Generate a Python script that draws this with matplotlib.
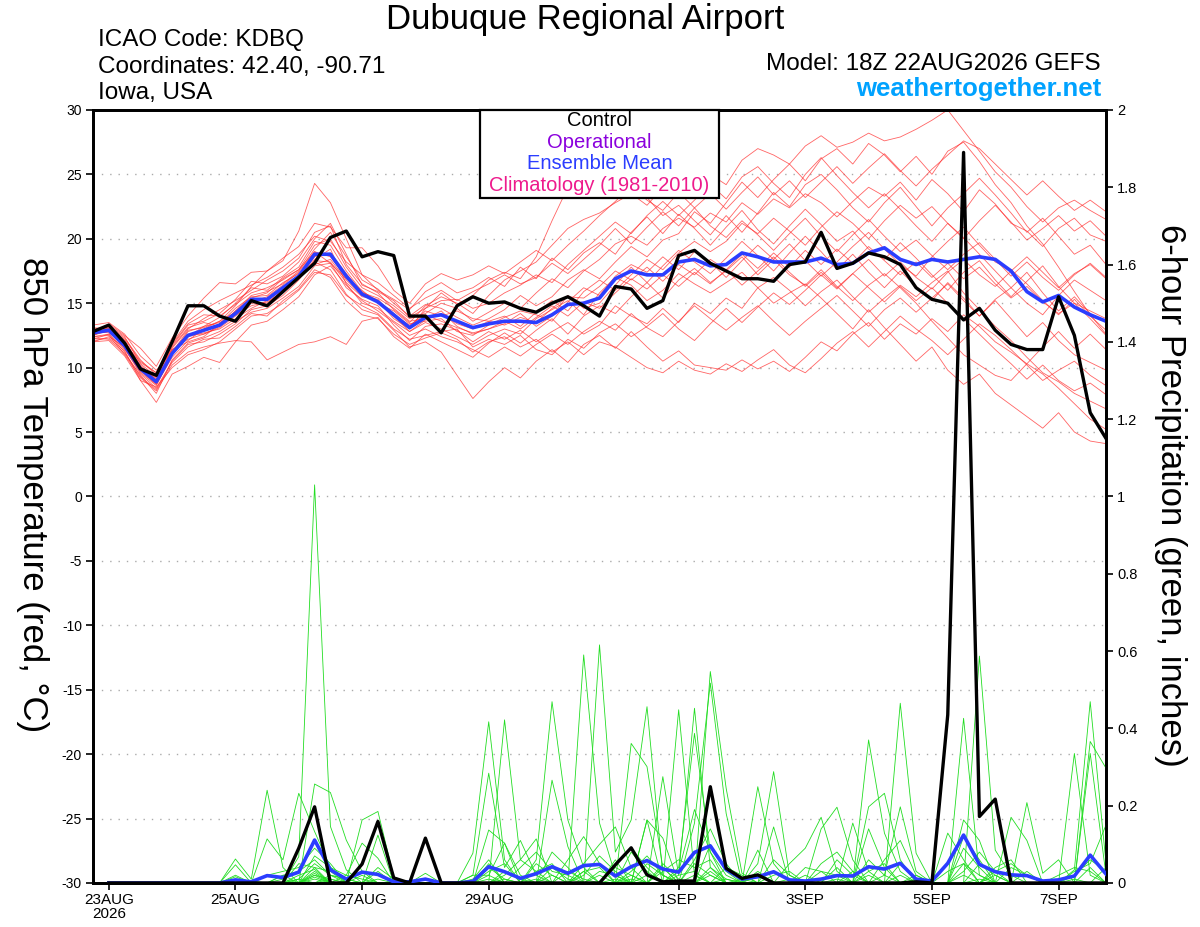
import matplotlib
matplotlib.use('Agg')
import matplotlib.pyplot as plt
import numpy as np
import pandas as pd
from matplotlib.patches import Rectangle
from matplotlib.ticker import FuncFormatter

plt.rcParams['font.family'] = ['Liberation Sans', 'DejaVu Sans']
plt.rcParams['axes.unicode_minus'] = False

# 6-hourly steps from the 18Z 22AUG2026 run, out to 384 h
times = pd.date_range('2026-08-22 18:00', periods=65, freq='6h')

tick_dates = pd.to_datetime(['2026-08-23', '2026-08-25', '2026-08-27', '2026-08-29',
                             '2026-09-01', '2026-09-03', '2026-09-05', '2026-09-07'])
tick_labels = ['23AUG\n2026', '25AUG', '27AUG', '29AUG', '1SEP', '3SEP', '5SEP', '7SEP']

# 850 hPa temperature (C)
control_t = [12.8, 13.3, 11.9, 9.9, 9.4, 12.0, 14.8, 14.8, 14.0, 13.6, 15.2, 14.8, 15.9,
             17.0, 18.1, 20.1, 20.6, 18.6, 19.0, 18.7, 14.0, 14.0, 12.7, 14.8, 15.5, 15.0,
             15.1, 14.6, 14.3, 15.0, 15.5, 14.8, 14.0, 16.3, 16.1, 14.6, 15.2, 18.7, 19.1,
             18.1, 17.5, 16.9, 16.9, 16.7, 18.0, 18.2, 20.5, 17.7, 18.1, 18.9, 18.6, 18.0,
             16.2, 15.3, 15.0, 13.7, 14.6, 12.9, 11.8, 11.4, 11.4, 15.5, 12.5, 6.5, 4.5]

mean_t = [12.7, 12.9, 11.7, 9.9, 8.9, 11.1, 12.5, 12.9, 13.3, 14.2, 15.3, 15.3, 16.2,
          17.1, 18.8, 18.8, 17.1, 15.7, 15.1, 14.1, 13.1, 13.9, 14.1, 13.6, 13.1, 13.4,
          13.6, 13.6, 13.5, 14.1, 14.9, 15.0, 15.4, 16.9, 17.5, 17.2, 17.2, 18.2, 18.4,
          17.9, 18.0, 18.9, 18.6, 18.2, 18.2, 18.2, 18.5, 18.0, 18.1, 18.9, 19.3, 18.4,
          18.0, 18.4, 18.2, 18.4, 18.6, 18.4, 17.5, 15.9, 15.1, 15.6, 14.7, 14.1, 13.6]

members_t = [
    [12.5, 13.0, 12.0, 10.2, 9.0, 11.5, 13.0, 13.8, 14.5, 15.2, 16.0, 16.8, 17.5,
     18.5, 20.5, 21.0, 18.0, 16.5, 15.8, 14.5, 13.5, 14.8, 15.5, 15.0, 14.2, 15.6,
     16.8, 17.5, 18.2, 19.5, 20.8, 21.5, 22.0, 22.8, 23.5, 22.6, 24.0, 25.2, 26.0,
     25.0, 24.2, 26.1, 27.0, 26.5, 25.8, 27.2, 28.0, 27.1, 27.5, 28.2, 27.6, 27.9,
     28.5, 29.2, 30.0, 28.4, 26.8, 25.2, 24.0, 22.5, 21.3, 22.4, 23.0, 22.2, 21.5],
    [13.0, 12.8, 11.5, 9.5, 8.4, 10.5, 11.8, 12.0, 12.6, 13.4, 14.5, 14.8, 15.6,
     16.8, 18.4, 19.2, 16.5, 15.0, 14.6, 13.6, 12.8, 13.5, 13.0, 12.4, 11.8, 12.5,
     13.0, 12.6, 13.8, 14.5, 15.2, 14.1, 15.8, 17.0, 16.4, 15.2, 16.0, 17.3, 16.5,
     15.8, 16.6, 17.4, 16.2, 15.0, 15.8, 16.5, 15.4, 14.2, 13.0, 14.5, 13.1, 11.8,
     10.5, 11.6, 9.8, 8.7, 9.5, 8.0, 7.1, 6.2, 5.3, 6.5, 5.0, 4.3, 4.1],
    [12.9, 13.2, 12.3, 10.6, 9.4, 11.8, 13.4, 14.1, 14.0, 14.9, 15.8, 16.2, 16.8,
     17.6, 19.5, 20.0, 17.8, 16.2, 15.6, 14.8, 13.8, 14.2, 15.0, 14.6, 13.6, 14.3,
     15.0, 14.6, 15.8, 16.9, 16.2, 17.5, 18.4, 19.6, 20.2, 19.5, 20.8, 21.6, 20.9,
     22.0, 21.3, 22.8, 21.9, 23.1, 22.4, 23.5, 22.8, 21.7, 22.9, 24.0, 23.3, 24.4,
     23.0, 24.6, 23.5, 22.1, 23.8, 22.7, 21.2, 20.6, 19.4, 20.8, 21.6, 20.3, 19.8],
    [12.2, 12.6, 11.4, 9.7, 8.7, 10.8, 12.1, 13.0, 13.6, 14.8, 16.3, 17.5, 18.3,
     20.6, 24.3, 22.8, 20.0, 17.2, 16.0, 15.3, 14.5, 15.9, 16.6, 15.8, 16.2, 17.0,
     16.3, 17.8, 16.9, 18.5, 17.6, 18.9, 19.7, 18.8, 20.5, 21.7, 20.4, 21.9, 20.8,
     19.5, 20.9, 22.2, 20.7, 19.6, 21.0, 22.3, 21.1, 19.8, 20.6, 19.2, 18.4, 19.7,
     18.5, 17.2, 16.0, 17.4, 18.3, 16.8, 15.5, 16.7, 17.9, 16.3, 15.0, 13.8, 12.5],
    [12.4, 12.5, 11.0, 9.2, 8.2, 10.2, 11.2, 11.6, 11.9, 12.1, 12.0, 10.6, 11.2,
     11.8, 12.0, 12.4, 11.8, 13.6, 13.9, 12.4, 11.5, 12.6, 12.0, 11.4, 10.8, 11.9,
     12.7, 11.9, 12.9, 13.8, 12.6, 14.0, 14.8, 14.2, 15.5, 16.6, 15.4, 16.8, 17.7,
     16.6, 17.5, 18.6, 17.2, 18.4, 19.6, 18.3, 17.1, 18.2, 19.4, 20.5, 19.2, 18.0,
     17.1, 18.6, 19.8, 20.9, 19.5, 18.2, 17.6, 16.5, 15.2, 14.1, 15.3, 14.0, 12.9],
    [13.3, 13.5, 12.6, 10.9, 9.8, 11.2, 12.4, 12.7, 13.0, 13.8, 14.6, 15.2, 16.1,
     17.0, 18.2, 17.6, 15.7, 14.5, 14.1, 12.9, 11.6, 12.0, 11.2, 9.4, 7.6, 8.9,
     10.0, 9.2, 10.5, 11.4, 10.4, 11.8, 12.5, 11.5, 12.8, 11.6, 10.5, 11.3, 10.2,
     10.0, 9.8, 10.6, 9.9, 10.5, 9.7, 10.8, 12.0, 11.3, 12.6, 13.5, 12.2, 13.4,
     12.6, 13.8, 12.8, 14.1, 13.2, 12.0, 11.2, 10.3, 9.5, 8.4, 7.2, 6.0, 5.2],
    [12.0, 12.4, 11.6, 9.6, 8.6, 11.0, 12.8, 13.2, 13.9, 15.0, 16.2, 16.0, 17.0,
     17.8, 19.8, 19.5, 17.5, 15.9, 15.2, 13.8, 13.0, 14.6, 15.8, 14.9, 15.6, 16.8,
     17.4, 16.9, 18.6, 21.4, 24.0, 26.2, 25.1, 23.6, 24.5, 23.2, 21.8, 22.6, 21.4,
     20.3, 21.8, 20.5, 22.0, 23.6, 22.5, 24.2, 25.0, 23.8, 22.4, 21.3, 22.8, 24.0,
     22.5, 21.0, 22.4, 23.5, 24.7, 23.4, 22.0, 20.5, 21.6, 20.2, 18.8, 19.5, 18.0],
    [12.6, 13.1, 12.1, 10.1, 9.1, 11.3, 12.6, 12.6, 13.1, 14.0, 15.0, 15.0, 16.0,
     16.9, 18.6, 18.9, 17.3, 15.8, 15.4, 14.6, 13.6, 13.8, 14.4, 13.2, 12.6, 13.0,
     13.4, 14.2, 13.2, 14.0, 15.6, 14.6, 15.0, 16.4, 17.8, 16.6, 17.9, 19.1, 18.2,
     17.3, 18.5, 19.8, 18.7, 17.5, 18.9, 20.2, 19.0, 17.6, 18.8, 17.4, 16.2, 17.5,
     16.3, 15.2, 16.6, 15.4, 14.0, 15.2, 13.8, 12.4, 13.5, 12.1, 11.0, 10.4, 9.8],
    [12.8, 12.7, 11.8, 10.0, 9.2, 11.6, 13.1, 13.5, 13.2, 14.4, 15.6, 15.9, 16.5,
     17.5, 19.2, 20.5, 18.6, 16.8, 16.1, 15.0, 14.0, 14.9, 14.6, 13.9, 13.3, 13.8,
     14.5, 15.6, 14.8, 15.5, 16.8, 17.6, 16.9, 18.2, 19.4, 18.6, 19.9, 20.4, 22.1,
     21.2, 22.8, 24.4, 23.2, 24.6, 25.8, 24.5, 26.2, 27.0, 25.8, 27.4, 26.5, 25.2,
     26.4, 25.0, 26.8, 27.5, 26.0, 24.2, 22.8, 21.0, 19.6, 17.8, 15.9, 14.1, 12.6],
    [12.3, 12.2, 11.1, 9.4, 8.0, 10.6, 11.9, 12.3, 12.8, 13.6, 14.3, 14.6, 15.4,
     16.3, 17.9, 18.1, 16.2, 15.3, 14.8, 13.3, 12.1, 13.2, 13.4, 12.9, 12.0, 12.8,
     12.2, 12.9, 12.0, 12.8, 13.5, 12.6, 13.3, 14.8, 14.0, 13.4, 14.6, 13.5, 15.0,
     14.2, 15.4, 14.6, 16.2, 17.0, 16.0, 14.8, 15.9, 16.8, 15.5, 14.3, 15.4, 16.4,
     15.5, 16.6, 17.5, 15.8, 14.5, 13.2, 12.1, 10.8, 9.6, 8.9, 8.0, 7.4, 6.8],
    [13.1, 13.0, 11.9, 10.4, 9.6, 11.4, 12.0, 12.4, 13.4, 14.6, 15.5, 15.6, 16.6,
     17.3, 18.0, 18.4, 16.8, 15.6, 15.2, 14.2, 13.2, 14.4, 14.0, 14.4, 13.8, 13.6,
     14.0, 13.2, 14.3, 15.2, 14.4, 15.9, 16.8, 16.0, 17.2, 18.4, 17.6, 18.9, 19.8,
     19.0, 19.8, 21.2, 20.4, 21.6, 20.6, 19.5, 20.9, 22.1, 21.2, 20.0, 21.4, 22.6,
     21.6, 22.5, 21.2, 20.0, 21.4, 22.6, 21.3, 19.9, 20.8, 21.8, 20.6, 21.4, 20.2],
    [12.1, 12.3, 11.3, 9.0, 7.3, 9.5, 10.1, 10.8, 10.4, 12.0, 13.3, 13.6, 14.5,
     15.5, 17.2, 17.9, 16.4, 15.2, 14.4, 13.5, 12.5, 13.0, 12.4, 12.0, 11.4, 10.8,
     11.6, 10.9, 11.8, 12.6, 11.8, 12.8, 13.6, 12.9, 14.2, 13.1, 12.4, 13.6, 14.8,
     13.8, 12.9, 13.9, 14.8, 13.6, 12.5, 13.6, 14.6, 15.6, 14.4, 13.2, 14.5, 15.4,
     14.3, 15.4, 16.5, 15.2, 14.0, 15.3, 16.2, 15.0, 14.1, 15.6, 16.8, 16.0, 15.2],
    [12.7, 13.4, 12.5, 11.5, 10.1, 12.3, 14.0, 15.4, 16.6, 16.5, 17.4, 17.5, 18.5,
     19.4, 21.2, 20.9, 19.3, 19.3, 17.9, 16.0, 15.0, 16.5, 17.3, 16.8, 17.2, 17.9,
     17.3, 18.2, 19.1, 18.3, 19.5, 20.6, 21.8, 22.9, 24.1, 23.0, 22.2, 23.6, 22.4,
     21.0, 20.1, 21.4, 20.3, 19.1, 20.4, 21.6, 20.2, 19.0, 20.3, 21.5, 20.2, 19.0,
     19.9, 18.7, 17.6, 18.8, 19.7, 18.4, 17.1, 18.2, 17.0, 16.0, 17.2, 18.1, 17.0],
    [12.5, 12.9, 11.6, 9.8, 8.8, 11.2, 12.9, 13.1, 13.6, 14.3, 15.1, 15.5, 16.4,
     17.4, 19.0, 18.1, 16.9, 16.0, 15.0, 14.4, 13.4, 13.6, 13.8, 12.8, 12.5, 13.3,
     13.9, 14.4, 14.1, 13.6, 15.1, 16.2, 15.6, 17.1, 18.0, 17.4, 18.6, 17.6, 19.0,
     18.2, 17.0, 18.3, 19.5, 18.4, 17.2, 16.4, 17.6, 16.3, 15.2, 16.4, 17.3, 16.2,
     15.0, 13.6, 12.3, 11.0, 10.2, 9.4, 9.0, 10.3, 11.6, 12.8, 11.5, 12.6, 11.4],
    [12.9, 13.3, 12.4, 10.3, 9.3, 11.7, 13.3, 13.6, 14.2, 15.3, 16.7, 16.5, 17.1,
     18.2, 20.0, 21.2, 18.8, 16.4, 15.9, 15.2, 13.9, 14.6, 15.2, 15.3, 14.6, 15.0,
     15.8, 16.4, 17.2, 16.6, 18.0, 19.1, 20.2, 21.3, 20.4, 21.8, 22.9, 21.8, 23.0,
     24.2, 23.1, 24.8, 25.6, 24.3, 23.2, 25.0, 26.3, 24.9, 23.6, 22.4, 23.5, 22.3,
     21.0, 19.8, 21.2, 20.1, 18.8, 17.5, 16.2, 17.4, 15.8, 14.4, 15.5, 14.2, 13.5],
    [12.0, 12.1, 10.9, 9.0, 8.5, 10.0, 11.0, 11.4, 12.0, 13.0, 14.0, 14.2, 15.0,
     16.0, 17.4, 17.2, 15.6, 14.8, 14.2, 13.0, 12.2, 12.5, 12.8, 13.0, 11.6, 12.2,
     11.8, 12.5, 11.4, 11.0, 12.2, 11.5, 12.7, 13.4, 12.4, 13.2, 14.2, 13.0, 12.1,
     13.4, 14.6, 13.5, 14.7, 15.8, 14.9, 16.0, 17.2, 16.1, 17.3, 18.4, 17.1, 18.2,
     17.0, 16.1, 17.4, 18.4, 17.2, 16.3, 17.5, 18.6, 17.4, 16.2, 17.3, 18.0, 16.9],
    [12.6, 12.8, 11.7, 10.0, 9.0, 11.0, 12.4, 13.2, 13.5, 14.1, 14.8, 15.1, 15.9,
     16.9, 18.3, 18.2, 16.6, 15.5, 15.3, 14.0, 12.8, 13.7, 14.2, 13.4, 13.0, 13.6,
     13.3, 13.9, 13.5, 14.6, 15.5, 15.4, 16.3, 17.5, 16.8, 17.8, 16.7, 18.0, 17.2,
     18.4, 17.6, 18.8, 17.7, 18.9, 17.8, 19.1, 18.0, 19.2, 18.1, 19.4, 18.3, 17.2,
     18.2, 17.0, 18.1, 16.9, 17.8, 16.5, 15.4, 16.3, 15.1, 14.2, 15.0, 14.4, 13.8],
    [12.4, 12.6, 11.2, 9.3, 8.3, 10.4, 11.6, 12.2, 12.3, 13.2, 14.2, 14.0, 15.2,
     16.1, 17.6, 17.0, 15.2, 14.1, 13.8, 12.6, 11.8, 12.3, 12.7, 12.2, 11.2, 12.0,
     12.4, 11.6, 12.2, 11.2, 12.0, 11.0, 12.0, 11.6, 10.8, 10.0, 9.6, 10.5, 9.8,
     9.5, 10.3, 9.7, 10.6, 11.4, 10.2, 9.6, 10.7, 11.9, 12.8, 11.6, 12.8, 14.0,
     13.0, 12.1, 11.0, 12.2, 13.4, 12.5, 11.4, 10.2, 9.0, 9.8, 10.5, 9.4, 8.6],
    [13.0, 13.1, 12.2, 10.5, 9.6, 11.9, 13.6, 14.5, 15.2, 15.8, 16.4, 17.0, 17.8,
     18.8, 20.2, 19.8, 18.2, 17.2, 16.6, 15.6, 14.6, 15.4, 16.0, 15.2, 15.9, 16.5,
     17.2, 16.5, 17.0, 18.1, 17.3, 18.4, 19.5, 20.8, 19.6, 20.9, 22.1, 21.0, 22.4,
     23.5, 22.3, 23.6, 24.8, 23.4, 24.5, 23.2, 24.4, 25.6, 24.3, 25.5, 26.6, 25.3,
     24.1, 25.4, 26.5, 27.6, 27.0, 25.8, 24.6, 23.4, 24.5, 23.3, 22.2, 23.0, 22.1],
    [12.8, 13.0, 11.8, 9.8, 8.7, 11.4, 12.2, 12.6, 13.2, 14.4, 15.4, 15.8, 16.9,
     17.6, 19.0, 18.6, 17.0, 15.7, 15.1, 14.1, 13.3, 14.1, 13.6, 13.1, 12.7, 13.0,
     13.6, 13.0, 13.9, 14.8, 14.0, 15.1, 14.6, 15.8, 16.9, 16.1, 17.2, 16.3, 17.4,
     16.5, 17.6, 16.4, 17.5, 18.6, 17.4, 16.3, 17.4, 16.2, 17.3, 16.2, 15.1, 16.3,
     15.2, 16.2, 15.0, 13.8, 12.6, 11.4, 10.3, 9.1, 10.2, 9.0, 8.2, 8.8, 7.9],
]

# 6-hour precipitation (inches), steps 1..64 (none at the analysis time)
control_p = [0, 0, 0, 0, 0, 0, 0, 0, 0, 0, 0, 0,
             0.09, 0.197, 0, 0, 0.049, 0.159, 0.013, 0, 0.116, 0,
             0, 0, 0, 0, 0, 0, 0, 0, 0, 0,
             0.047, 0.091, 0.021, 0.003, 0.005, 0.005, 0.249, 0.038, 0.012, 0.021,
             0, 0, 0, 0, 0, 0, 0, 0, 0,
             0.003, 0, 0.435, 1.89, 0.172, 0.217,
             0, 0, 0, 0, 0, 0, 0]

mean_p = [0, 0, 0, 0, 0, 0, 0, 0,
          0.008, 0.003, 0.019, 0.014, 0.028, 0.111, 0.034, 0.010, 0.028, 0.022,
          0.003, 0.003, 0.010, 0, 0, 0.004, 0.042, 0.029, 0.012, 0.024,
          0.042, 0.025, 0.045, 0.048, 0.018, 0.042, 0.058, 0.036, 0.028, 0.079,
          0.096, 0.035, 0.010, 0.016, 0.029, 0.008, 0.005, 0.010, 0.019, 0.018,
          0.042, 0.036, 0.051, 0.010, 0.005, 0.051, 0.124, 0.048, 0.029, 0.021,
          0.019, 0.005, 0.008, 0.018, 0.072, 0.023]

# members: {step: inches}, every other step is dry
members_p = [
    {9: 0.016, 13: 0.068, 14: 1.03, 15: 0.146, 16: 0.034, 25: 0.137, 26: 0.103, 29: 0.266,
     30: 0.094, 35: 0.163, 36: 0.116, 38: 0.155, 39: 0.517, 40: 0.18, 43: 0.145, 46: 0.14,
     47: 0.196, 48: 0.06, 55: 0.163, 56: 0.11, 63: 0.366, 64: 0.297},
    {9: 0.062, 10: 0.01, 11: 0.24, 12: 0.04, 14: 0.256, 15: 0.234, 16: 0.111, 17: 0.03,
     24: 0.077, 25: 0.417, 26: 0.06, 31: 0.59, 32: 0.155, 33: 0.02, 37: 0.448, 38: 0.02,
     42: 0.085, 49: 0.37, 50: 0.129, 51: 0.03, 58: 0.17, 59: 0.11, 62: 0.034, 63: 0.469,
     64: 0.05},
    {9: 0.047, 11: 0.114, 12: 0.06, 13: 0.232, 14: 0.133, 15: 0.04, 17: 0.163, 18: 0.185,
     19: 0.016, 26: 0.422, 27: 0.06, 28: 0.114, 32: 0.616, 33: 0.08, 34: 0.163, 35: 0.456,
     36: 0.02, 42: 0.249, 43: 0.05, 51: 0.465, 52: 0.077, 55: 0.426, 56: 0.02, 62: 0.335,
     63: 0.02},
    {10: 0.005, 12: 0.02, 13: 0.03, 14: 0.06, 15: 0.02, 18: 0.124, 21: 0.025, 25: 0.05,
     28: 0.06, 29: 0.469, 30: 0.163, 31: 0.04, 34: 0.361, 35: 0.301, 36: 0.04, 39: 0.547,
     40: 0.245, 41: 0.025, 47: 0.04, 49: 0.197, 50: 0.232, 51: 0.06, 56: 0.587, 57: 0.085,
     58: 0.02, 63: 0.335, 64: 0.02},
    {12: 0.01, 14: 0.03, 16: 0.02, 17: 0.103, 18: 0.064, 24: 0.02, 25: 0.284, 26: 0.04,
     27: 0.11, 28: 0.02, 31: 0.05, 32: 0.1, 33: 0.145, 34: 0.04, 36: 0.275, 37: 0.02,
     38: 0.452, 39: 0.04, 44: 0.05, 45: 0.09, 46: 0.17, 47: 0.03, 55: 0.05, 59: 0.208,
     60: 0.025, 61: 0.06},
    {9: 0.02, 13: 0.05, 14: 0.04, 15: 0.03, 18: 0.03, 25: 0.03, 26: 0.05, 29: 0.08,
     30: 0.04, 33: 0.06, 35: 0.163, 37: 0.04, 38: 0.387, 39: 0.08, 42: 0.05, 43: 0.288,
     44: 0.02, 49: 0.14, 50: 0.04, 54: 0.129, 55: 0.06, 62: 0.03, 63: 0.05, 64: 0.15},
    {11: 0.02, 12: 0.03, 13: 0.04, 14: 0.09, 15: 0.05, 17: 0.02, 26: 0.02, 27: 0.06,
     28: 0.03, 30: 0.06, 31: 0.12, 32: 0.05, 34: 0.08, 35: 0.03, 37: 0.03, 38: 0.19,
     39: 0.08, 40: 0.02, 45: 0.04, 46: 0.03, 48: 0.155, 49: 0.03, 52: 0.02, 57: 0.04,
     58: 0.06},
    {13: 0.01, 14: 0.05, 15: 0.02, 16: 0.01, 24: 0.01, 25: 0.06, 28: 0.03, 29: 0.05,
     31: 0.03, 32: 0.04, 34: 0.02, 36: 0.03, 37: 0.06, 38: 0.04, 39: 0.06, 41: 0.01,
     49: 0.06, 50: 0.02, 51: 0.197, 52: 0.03, 55: 0.09, 56: 0.04, 59: 0.03},
    {9: 0.01, 12: 0.02, 14: 0.02, 18: 0.01, 25: 0.02, 26: 0.103, 27: 0.02, 29: 0.02,
     32: 0.03, 33: 0.02, 35: 0.05, 36: 0.02, 39: 0.1, 40: 0.03, 43: 0.02, 44: 0.03,
     47: 0.06, 48: 0.02, 55: 0.12, 56: 0.06, 61: 0.02, 62: 0.04, 63: 0.03},
    {14: 0.07, 15: 0.04, 16: 0.02, 17: 0.01, 27: 0.04, 28: 0.08, 29: 0.03, 30: 0.02,
     33: 0.05, 34: 0.09, 35: 0.04, 38: 0.06, 39: 0.14, 40: 0.05, 42: 0.02, 46: 0.05,
     47: 0.08, 48: 0.03, 50: 0.06, 51: 0.11, 52: 0.02, 57: 0.03, 58: 0.05, 59: 0.02,
     64: 0.04},
    {14: 0.02, 15: 0.01, 25: 0.04, 26: 0.01, 31: 0.02, 32: 0.07, 33: 0.03, 36: 0.05,
     37: 0.01, 40: 0.04, 41: 0.02, 49: 0.03, 50: 0.05, 55: 0.03, 56: 0.08, 57: 0.03},
    {13: 0.02, 14: 0.035, 18: 0.04, 19: 0.01, 28: 0.05, 29: 0.02, 34: 0.03, 35: 0.07,
     36: 0.02, 39: 0.03, 43: 0.06, 44: 0.02, 51: 0.05, 52: 0.01, 62: 0.02, 63: 0.06,
     64: 0.03},
    {14: 0.015, 25: 0.01, 30: 0.03, 31: 0.01, 38: 0.05, 39: 0.02, 46: 0.03, 47: 0.02,
     54: 0.03, 55: 0.05, 56: 0.02},
    {15: 0.02, 16: 0.01, 26: 0.03, 27: 0.01, 33: 0.04, 34: 0.02, 37: 0.02, 38: 0.03,
     45: 0.02, 49: 0.02, 58: 0.04, 59: 0.02},
    {14: 0.04, 29: 0.04, 30: 0.01, 35: 0.02, 39: 0.04, 40: 0.01, 42: 0.03, 50: 0.02,
     56: 0.05, 57: 0.02, 63: 0.04},
    {13: 0.01, 24: 0.02, 25: 0.02, 32: 0.02, 36: 0.04, 44: 0.01, 48: 0.03, 55: 0.02},
    {14: 0.025, 28: 0.01, 31: 0.03, 38: 0.02, 47: 0.01, 57: 0.02, 62: 0.01},
    {15: 0.01, 26: 0.01, 34: 0.01, 39: 0.02, 51: 0.02, 56: 0.01},
    {14: 0.01, 33: 0.01, 40: 0.01, 52: 0.01},
    {},
]

legend_items = [('Control', 'black'), ('Operational', '#8a00dd'),
                ('Ensemble Mean', '#2b3dff'), ('Climatology (1981-2010)', '#ee1a8c')]

fig = plt.figure(figsize=(12, 9.27), dpi=100)
ax = fig.add_axes([0.0775, 0.0475, 0.8442, 0.8339])
ax2 = ax.twinx()

ptimes = times[1:]

for m in members_t:
    ax.plot(times, m, color='#ff3030', lw=0.6, alpha=0.75, zorder=2)
ax.plot(times, mean_t, color='#2b3dff', lw=2.6, zorder=4)
ax.plot(times, control_t, color='black', lw=2.4, zorder=5)

for ev in members_p:
    vals = np.zeros(len(ptimes))
    for step, v in ev.items():
        vals[step - 1] = v
    ax2.plot(ptimes, vals, color='#22dd22', lw=0.6, zorder=2)
ax2.plot(ptimes, mean_p, color='#2b3dff', lw=2.6, zorder=4)
ax2.plot(ptimes, control_p, color='black', lw=2.4, zorder=5)

ax.set_xlim(times[0], times[-1])
ax.set_ylim(-30, 30)
ax.set_yticks(np.arange(-30, 31, 5))
ax2.set_ylim(0, 2)
ax2.set_yticks(np.arange(0, 2.01, 0.2))
ax2.yaxis.set_major_formatter(FuncFormatter(lambda v, p: '%g' % round(v, 1)))

ax.set_xticks(tick_dates)
ax.set_xticklabels(tick_labels, fontsize=11, linespacing=1.05)
ax.xaxis.set_minor_locator(plt.NullLocator())
ax.tick_params(axis='x', direction='out', length=5, width=1.2, pad=2)
ax.tick_params(axis='y', direction='out', length=5, width=1.2, pad=3, labelsize=10)
ax2.tick_params(axis='y', direction='out', length=5, width=1.2, pad=3, labelsize=10.5)

for yv in range(-25, 30, 5):
    ax.axhline(yv, color='#aaaaaa', lw=1, ls=(0, (1, 5)), zorder=1)

for a in (ax, ax2):
    for s in a.spines.values():
        s.set_linewidth(2)

fig.text(0.027, 0.466, '850 hPa Temperature (red, °C)', rotation=270,
         ha='center', va='center', fontsize=25)
fig.text(0.975, 0.466, '6-hour Precipitation (green, inches)', rotation=270,
         ha='center', va='center', fontsize=25)

fig.text(0.4875, 0.979, 'Dubuque Regional Airport', ha='center', va='center', fontsize=25)
fig.text(0.0817, 0.957, 'ICAO Code: KDBQ', ha='left', va='center', fontsize=17.5)
fig.text(0.0817, 0.928, 'Coordinates: 42.40, -90.71', ha='left', va='center', fontsize=17.5)
fig.text(0.0817, 0.900, 'Iowa, USA', ha='left', va='center', fontsize=17.5)
fig.text(0.9175, 0.931, 'Model: 18Z 22AUG2026 GEFS', ha='right', va='center', fontsize=17.5)
fig.text(0.9175, 0.904, 'weathertogether.net', ha='right', va='center', fontsize=18.5,
         fontweight='bold', color='#00a2ff')

box = Rectangle((0.4, 0.7864), 0.199, 0.0949, transform=fig.transFigure,
                facecolor='white', edgecolor='black', lw=1.6, zorder=10)
fig.add_artist(box)
for i, (name, col) in enumerate(legend_items):
    fig.text(0.4995, 0.8695 - i * 0.0231, name, ha='center', va='center',
             fontsize=14.5, color=col, zorder=11)

fig.savefig('out.png', dpi=100)
